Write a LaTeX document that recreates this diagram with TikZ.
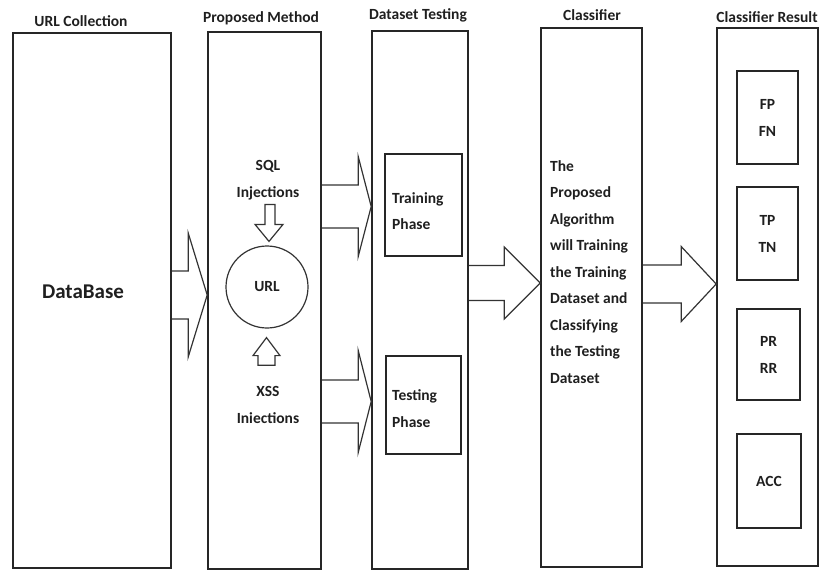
\documentclass[tikz,border=0pt]{standalone}
\usepackage{fontspec}
\setmainfont{Carlito}
\usetikzlibrary{calc}
\tikzset{
  box/.style={draw=black!85, line width=1.6pt, inner sep=0pt, anchor=center},
  inbox/.style={draw=black!85, line width=1.4pt, inner sep=0pt, anchor=center},
  title/.style={font=\bfseries\fontsize{15.5}{18}\selectfont, text=black!88, inner sep=0pt},
  lbl/.style={font=\bfseries\fontsize{15.5}{27}\selectfont, text=black!88, inner sep=0pt, align=center},
  lbll/.style={font=\bfseries\fontsize{15.5}{26.5}\selectfont, text=black!88, inner sep=0pt, align=left},
  blockarrow/.style={draw=black!80, line width=1.2pt, line join=miter},
  urlcirc/.style={draw=black!80, line width=1.2pt, circle, inner sep=0pt, minimum size=82pt},
}
% horizontal block arrow: from node, to node, y centre, shaft half, head half, head length
\newcommand{\blockarr}[6]{%
  \draw[blockarrow] let \p1=(#1.east), \p2=(#2.west) in
    (\x1,{-(#3-#4)*1pt}) -- ({\x2-#6*1pt},{-(#3-#4)*1pt}) --
    ({\x2-#6*1pt},{-(#3-#5)*1pt}) -- (\x2,{-#3*1pt}) --
    ({\x2-#6*1pt},{-(#3+#5)*1pt}) -- ({\x2-#6*1pt},{-(#3+#4)*1pt}) --
    (\x1,{-(#3+#4)*1pt});}
\begin{document}
\begin{tikzpicture}[x=1pt,y=-1pt]
\useasboundingbox (0,0) rectangle (825,571);
% main columns
\node[box, minimum width=158pt, minimum height=535pt] (b1) at (92,300.5) {};
\node[box, minimum width=113pt, minimum height=537pt] (b2) at (264.5,300.5) {};
\node[box, minimum width=96pt, minimum height=538pt] (b3) at (420,300) {};
\node[box, minimum width=101pt, minimum height=539pt] (b4) at (591.5,297.5) {};
\node[box, minimum width=101pt, minimum height=538pt] (b5) at (767.5,297) {};
% titles
\node[title] (t1) at (81,21) {URL Collection};
\node[title] (t2) at (261,18) {Proposed Method};
\node[title] (t3) at (418,15) {Dataset Testing};
\node[title] (t4) at (592,15) {Classifier};
\node[title] (t5) at (767,17) {Classifier Result};
% column 1
\node[font=\bfseries\fontsize{21}{24}\selectfont, text=black!88, inner sep=0pt] (db) at (83,292) {DataBase};
% column 2
\node[lbl] (sqlt) at (268,180.5) {SQL\\Injections};
\node[urlcirc] (url) at (267,287) {};
\node[lbl] at (url.center) {URL};
\node[lbl] (xsst) at (268,405) {XSS\\Iniections};
% column 3
\node[inbox, minimum width=77pt, minimum height=102pt] (train) at (423.5,205) {};
\node[lbll, anchor=west] at (392,211) {Training\\Phase};
\node[inbox, minimum width=75pt, minimum height=98pt] (test) at (423.5,405) {};
\node[lbll, anchor=west] at (392,408.5) {Testing\\Phase};
% column 4
\node[lbll, anchor=north west] (algo) at (550,160) {The\\Proposed\\Algorithm\\will Training\\the Training\\Dataset and\\Classifying\\the Testing\\Dataset};
% column 5
\node[inbox, minimum width=61pt, minimum height=93pt] (fp) at (767.5,117.5) {};
\node[lbl] at (fp.center) {FP\\FN};
\node[inbox, minimum width=61pt, minimum height=93pt] (tp) at (767.5,233.5) {};
\node[lbl] at (tp.center) {TP\\TN};
\node[inbox, minimum width=63pt, minimum height=91pt] (pr) at (768.5,354.5) {};
\node[lbl] at (pr.center) {PR\\RR};
\node[inbox, minimum width=64pt, minimum height=94pt] (acc) at (769,481) {};
\node[lbl] at (acc.center) {ACC};
% block arrows between columns
\blockarr{b1}{b2}{295}{24}{62}{19}
\blockarr{b2}{b3}{206.5}{21.5}{50}{13}
\blockarr{b2}{b3}{401.5}{21.5}{51}{13}
\blockarr{b3}{b4}{283}{17.5}{36}{36}
\blockarr{b4}{b5}{284}{19}{37.5}{35}
% SQL down arrow
\draw[blockarrow] let \p1=(sqlt.south), \p2=(url.north) in
  ({\x2-2pt},{\y1-4pt}) -- ({\x2+8pt},{\y1-4pt}) -- ({\x2+8pt},{\y2+21pt}) --
  ({\x2+16pt},{\y2+21pt}) -- ({\x2+2pt},{\y2+4pt}) -- ({\x2-12pt},{\y2+21pt}) --
  ({\x2-2pt},{\y2+21pt}) -- cycle;
% XSS up arrow
\draw[blockarrow] let \p1=(xsst.north), \p2=(url.south) in
  ({\x2-9pt},{\y1+21pt}) -- ({\x2+8pt},{\y1+21pt}) -- ({\x2+8pt},{\y2-27pt}) --
  ({\x2+13pt},{\y2-27pt}) -- ({\x2-0.5pt},{\y2-9pt}) -- ({\x2-14pt},{\y2-27pt}) --
  ({\x2-9pt},{\y2-27pt}) -- cycle;
\end{tikzpicture}
\end{document}
